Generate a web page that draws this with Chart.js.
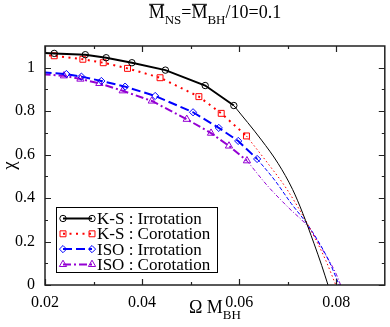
<!DOCTYPE html>
<html>
<head>
<meta charset="utf-8">
<script src="https://cdn.jsdelivr.net/npm/chart.js@4.4.1/dist/chart.umd.min.js"></script>
<style>
  html, body { margin: 0; padding: 0; background: #fff; }
  #wrap { width: 390px; height: 327px; }
</style>
</head>
<body>
<div id="wrap"><canvas id="chart" width="390" height="327"></canvas></div>
<script>
// ================== DATA ==================
const seriesLabels = ["K-S : Irrotation", "K-S : Corotation", "ISO : Irrotation", "ISO : Corotation"];

const ksIrrotX = [0.0195, 0.0219, 0.0283, 0.0326, 0.0379, 0.0448, 0.0530, 0.0589];
const ksIrrotY = [1.068, 1.066, 1.060, 1.046, 1.023, 0.989, 0.918, 0.826];
const ksIrrotTailX = [0.0589, 0.0646, 0.0680, 0.0710, 0.0731, 0.0754, 0.0770, 0.0783];
const ksIrrotTailY = [0.826, 0.667, 0.560, 0.440, 0.330, 0.192, 0.090, 0];

const ksCorotX = [0.0195, 0.0219, 0.0278, 0.0320, 0.0370, 0.0437, 0.0517, 0.0563, 0.0615];
const ksCorotY = [1.058, 1.055, 1.039, 1.023, 0.997, 0.954, 0.867, 0.790, 0.686];
const ksCorotTailX = [0.0615, 0.0659, 0.0697, 0.0744, 0.0778, 0.0799];
const ksCorotTailY = [0.686, 0.560, 0.445, 0.268, 0.115, 0];

const isoIrrotX = [0.0195, 0.0244, 0.0275, 0.0316, 0.0365, 0.0427, 0.0505, 0.0558, 0.0598, 0.0637];
const isoIrrotY = [0.979, 0.971, 0.959, 0.939, 0.913, 0.870, 0.795, 0.723, 0.663, 0.580];
const isoIrrotTailX = [0.0637, 0.0673, 0.0707, 0.0744, 0.0784, 0.0806];
const isoIrrotTailY = [0.580, 0.483, 0.376, 0.268, 0.115, 0];

const isoCorotX = [0.0195, 0.0239, 0.0273, 0.0312, 0.0360, 0.0420, 0.0492, 0.0542, 0.0579, 0.0616];
const isoCorotY = [0.970, 0.963, 0.948, 0.928, 0.894, 0.847, 0.763, 0.699, 0.640, 0.572];
const isoCorotTailX = [0.0616, 0.0659, 0.0702, 0.0744, 0.0775, 0.0800, 0.0809];
const isoCorotTailY = [0.572, 0.455, 0.355, 0.262, 0.150, 0.050, 0];

const xTicks = [0.02, 0.04, 0.06, 0.08];
const xMinorTicks = [0.03, 0.05, 0.07];
const yTicks = [0, 0.2, 0.4, 0.6, 0.8, 1];
const yMinorTicks = [0.1, 0.3, 0.5, 0.7, 0.9];

// ================== HELPERS ==================
const SERIF = "'Liberation Serif', 'DejaVu Serif', serif";
const zip = (xs, ys) => xs.map((x, i) => ({ x, y: ys[i] }));

function mainSet(label, xs, ys, color, dash, style, radius) {
  return {
    label, data: zip(xs, ys),
    borderColor: color, borderWidth: 2, borderDash: dash,
    pointStyle: style,
    pointRadius: (c) => (c.dataIndex === 0 ? 0 : radius),
    pointBorderColor: color, pointBackgroundColor: "rgba(0,0,0,0)",
    pointBorderWidth: 1, tension: 0, isMain: true,
  };
}

function tailSet(xs, ys, color, dash) {
  return {
    label: "", data: zip(xs, ys),
    borderColor: color, borderWidth: 1, borderDash: dash,
    pointRadius: 0, cubicInterpolationMode: "monotone",
  };
}

// text with overlines and subscripts
function richText(ctx, parts, cx, baseY, size, subSize, align) {
  let total = 0;
  parts.forEach((p) => {
    ctx.font = (p.sub ? subSize : size) + "px " + SERIF;
    p.w = ctx.measureText(p.t).width;
    total += p.w;
  });
  let x = align === "center" ? cx - total / 2 : cx;
  ctx.textAlign = "left";
  ctx.textBaseline = "alphabetic";
  ctx.fillStyle = "#000";
  parts.forEach((p) => {
    ctx.font = (p.sub ? subSize : size) + "px " + SERIF;
    const y = p.sub ? baseY + size * 0.33 : baseY;
    ctx.fillText(p.t, x, y);
    if (p.bar) {
      ctx.beginPath();
      ctx.lineWidth = 1;
      ctx.strokeStyle = "#000";
      ctx.moveTo(x + 0.5, baseY - size * 0.76);
      ctx.lineTo(x + p.w - 0.5, baseY - size * 0.76);
      ctx.stroke();
    }
    x += p.w;
  });
}

// ================== FRAME / TICKS / LEGEND / LABELS ==================
const decorPlugin = {
  id: "decor",
  afterDatasetsDraw(chart) {
    const { ctx, chartArea: a, scales } = chart;
    const xs = scales.x, ys = scales.y;
    ctx.save();
    ctx.setLineDash([]);
    ctx.strokeStyle = "#222";
    ctx.lineWidth = 1.2;

    // inside ticks on all four sides
    ctx.beginPath();
    const tick = (vals, len) => {
      vals.forEach((v) => {
        const px = Math.round(xs.getPixelForValue(v)) + 0.5;
        ctx.moveTo(px, a.bottom); ctx.lineTo(px, a.bottom - len);
        ctx.moveTo(px, a.top); ctx.lineTo(px, a.top + len);
      });
    };
    const ytick = (vals, len) => {
      vals.forEach((v) => {
        const py = Math.round(ys.getPixelForValue(v)) + 0.5;
        ctx.moveTo(a.left, py); ctx.lineTo(a.left + len, py);
        ctx.moveTo(a.right, py); ctx.lineTo(a.right - len, py);
      });
    };
    tick(xTicks, 6); tick(xMinorTicks, 3);
    ytick(yTicks, 6); ytick(yMinorTicks, 3);
    ctx.stroke();

    ctx.lineWidth = 1.5;
    ctx.strokeRect(a.left, a.top, a.right - a.left, a.bottom - a.top);

    // legend
    const bx = 56.5, by = 207.5, bw = 161, bh = 65;
    ctx.fillStyle = "#fff";
    ctx.fillRect(bx, by, bw, bh);
    ctx.lineWidth = 1;
    ctx.strokeStyle = "#000";
    ctx.strokeRect(bx, by, bw, bh);

    const mains = chart.data.datasets.filter((d) => d.isMain);
    mains.forEach((d, i) => {
      const y = 218.5 + i * 15.3;
      ctx.setLineDash(d.borderDash || []);
      ctx.strokeStyle = d.borderColor;
      ctx.lineWidth = d.borderWidth;
      ctx.beginPath();
      ctx.moveTo(63, y); ctx.lineTo(92, y);
      ctx.stroke();
      ctx.setLineDash([]);
      ctx.lineWidth = 1;
      ctx.fillStyle = "rgba(0,0,0,0)";
      const r = d.pointRadius({ dataIndex: 1 });
      [63, 92].forEach((px) => {
        Chart.helpers.drawPoint(ctx, { pointStyle: d.pointStyle, radius: r, borderWidth: 1, rotation: 0 }, px, y);
      });
      ctx.fillStyle = "#000";
      ctx.font = "17px " + SERIF;
      ctx.textAlign = "left";
      ctx.textBaseline = "middle";
      ctx.fillText(seriesLabels[i], 97, y + 1);
    });
    ctx.restore();
  },
  afterDraw(chart) {
    const { ctx, chartArea: a } = chart;
    const cx = (a.left + a.right) / 2;
    ctx.save();
    // title
    richText(ctx, [
      { t: "M", bar: true }, { t: "NS", sub: true }, { t: "=" },
      { t: "M", bar: true }, { t: "BH", sub: true }, { t: "/10=0.1" },
    ], cx, 18, 18, 13, "center");
    // x axis title
    richText(ctx, [{ t: "\u03A9 M" }, { t: "BH", sub: true }], cx, 313, 18, 13, "center");
    // y axis title
    ctx.translate(10, (a.top + a.bottom) / 2);
    ctx.rotate(-Math.PI / 2);
    ctx.font = "19px " + SERIF;
    ctx.textAlign = "center";
    ctx.textBaseline = "middle";
    ctx.fillStyle = "#000";
    ctx.fillText("\u03C7", 0, 0);
    ctx.restore();
  },
};

// ================== CHART ==================
const datasets = [
  mainSet(seriesLabels[0], ksIrrotX, ksIrrotY, "#000000", [], "circle", 3.2),
  mainSet(seriesLabels[1], ksCorotX, ksCorotY, "#ff0000", [2, 4.5], "rect", 4.2),
  mainSet(seriesLabels[2], isoIrrotX, isoIrrotY, "#0000ff", [9, 4], "rectRot", 3.6),
  mainSet(seriesLabels[3], isoCorotX, isoCorotY, "#9400d3", [8, 3, 2, 3], "triangle", 4.2),
  tailSet(ksIrrotTailX, ksIrrotTailY, "#000000", []),
  tailSet(ksCorotTailX, ksCorotTailY, "#ff0000", [1.5, 2.5]),
  tailSet(isoIrrotTailX, isoIrrotTailY, "#0000ff", [4, 2]),
  tailSet(isoCorotTailX, isoCorotTailY, "#9400d3", [4, 2, 1, 2]),
];

new Chart(document.getElementById("chart"), {
  type: "line",
  data: { datasets },
  options: {
    responsive: false,
    animation: false,
    devicePixelRatio: 1,
    layout: { padding: { top: 46, right: 2, left: 0, bottom: 0 } },
    plugins: { legend: { display: false }, title: { display: false }, tooltip: { enabled: false } },
    scales: {
      x: {
        type: "linear", min: 0.02, max: 0.09,
        afterBuildTicks: (s) => { s.ticks = xTicks.map((v) => ({ value: v })); },
        afterFit: (s) => { s.height = 42; },
        grid: { display: false }, border: { display: false },
        ticks: {
          color: "#000", font: { family: SERIF, size: 16 }, padding: 0,
          maxRotation: 0, autoSkip: false,
          callback: (v) => v.toFixed(2),
        },
      },
      y: {
        type: "linear", min: 0, max: 1.1,
        afterBuildTicks: (s) => { s.ticks = yTicks.map((v) => ({ value: v })); },
        afterFit: (s) => { s.width = 45; },
        grid: { display: false }, border: { display: false },
        ticks: {
          color: "#000", font: { family: SERIF, size: 16 }, padding: 2,
          autoSkip: false, callback: (v) => String(v),
        },
      },
    },
  },
  plugins: [decorPlugin],
});
</script>
</body>
</html>
